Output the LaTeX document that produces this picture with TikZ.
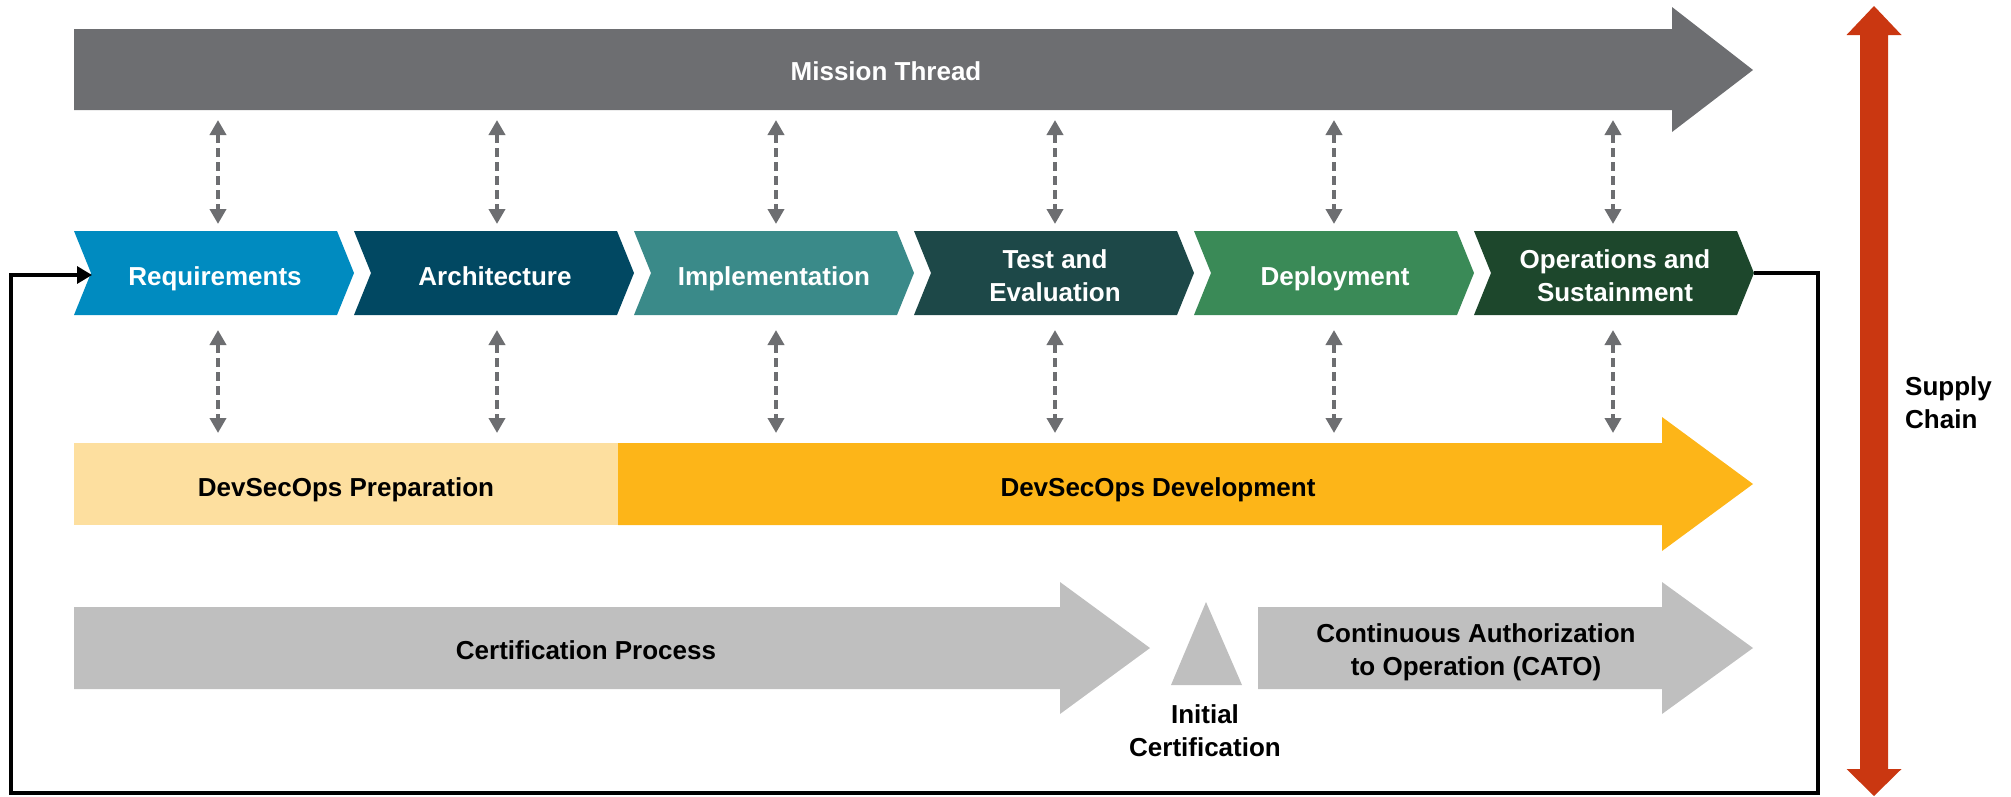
\documentclass[tikz,border=0pt]{standalone}
\usepackage{fontspec}
\setmainfont{Liberation Sans}
\usetikzlibrary{arrows.meta}
\definecolor{mgray}{HTML}{6D6E71}
\definecolor{creq}{HTML}{008BC0}
\definecolor{carch}{HTML}{014862}
\definecolor{cimpl}{HTML}{3A8A89}
\definecolor{ctest}{HTML}{1D4848}
\definecolor{cdep}{HTML}{3A8A57}
\definecolor{cops}{HTML}{1D472C}
\definecolor{cprep}{HTML}{FDDF9F}
\definecolor{cdev}{HTML}{FDB518}
\definecolor{ccert}{HTML}{BFBFBF}
\definecolor{cred}{HTML}{CA3711}
\tikzset{
  lbl/.style={font=\fontsize{26}{33}\selectfont\bfseries, align=center, inner sep=0pt},
  wlbl/.style={lbl, text=white},
  dasharrow/.style={draw=mgray, line width=4pt, dash pattern=on 9pt off 5pt,
    {Triangle[length=15pt,width=16pt]}-{Triangle[length=15pt,width=16pt]}},
  fbline/.style={draw=black, line width=3.3pt, -{Triangle[length=15pt,width=17pt]}},
}
\begin{document}
\begin{tikzpicture}[x=1pt,y=-1pt]
\useasboundingbox (0,0) rectangle (2011,796);
% Mission thread
\fill[mgray] (74,29) -- (1672,29) -- (1672,7) -- (1753,70) -- (1672,132) -- (1672,110) -- (74,110) -- cycle;
\node[wlbl, anchor=base] (mission) at (886,80) {Mission Thread};
% chevrons
\foreach \i/\col in {0/creq,1/carch,2/cimpl,3/ctest,4/cdep,5/cops}{
  \pgfmathsetmacro{\xo}{74+280*\i}
  \fill[\col] (\xo,231) -- (\xo+263,231) -- (\xo+280,273) -- (\xo+263,315) -- (\xo,315) -- (\xo+17,273) -- cycle;
}
\node[wlbl, anchor=base] (c1) at (215,285) {Requirements};
\node[wlbl, anchor=base] (c2) at (495,285) {Architecture};
\node[wlbl, anchor=base] (c3) at (774,285) {Implementation};
\node[wlbl] (c4) at (1055,276) {Test and\\Evaluation};
\node[wlbl, anchor=base] (c5) at (1335,285) {Deployment};
\node[wlbl] (c6) at (1615,276) {Operations and\\Sustainment};
% dashed arrows
\foreach \i in {0,...,5}{
  \pgfmathsetmacro{\xa}{218+279*\i}
  \coordinate (ua\i) at (\xa,120);
  \coordinate (ub\i) at (\xa,224);
  \coordinate (la\i) at (\xa,330);
  \coordinate (lb\i) at (\xa,433);
  \draw[dasharrow] (ua\i) -- (ub\i);
  \draw[dasharrow] (la\i) -- (lb\i);
}
% DevSecOps
\fill[cprep] (74,443) rectangle (618,525);
\fill[cdev] (618,443) -- (1662,443) -- (1662,417) -- (1753,484) -- (1662,551) -- (1662,525) -- (618,525) -- cycle;
\node[lbl, anchor=base] (prep) at (346,496) {DevSecOps Preparation};
\node[lbl, anchor=base] (dev) at (1158,496) {DevSecOps Development};
% Certification
\fill[ccert] (74,607) -- (1060,607) -- (1060,582) -- (1150,648) -- (1060,714) -- (1060,689) -- (74,689) -- cycle;
\fill[ccert] (1206,602) -- (1242,685) -- (1171,685) -- cycle;
\fill[ccert] (1258,607) -- (1662,607) -- (1662,582) -- (1753,648) -- (1662,714) -- (1662,689) -- (1258,689) -- cycle;
\node[lbl, anchor=base] (cert) at (586,659) {Certification Process};
\node[lbl] (cato) at (1476,652) {Continuous Authorization\\to Operation (CATO)};
\node[lbl] (init) at (1205,731) {Initial\\Certification};
% Supply chain
\fill[cred] (1860,35) -- (1846.5,35) -- (1874,6) -- (1901.5,35) -- (1888,35) -- (1888,769) -- (1901.5,769) -- (1874,796) -- (1846.5,769) -- (1860,769) -- cycle;
\node[lbl, align=left, anchor=west] (supply) at (1905,403) {Supply\\Chain};
% feedback loop
\coordinate (optip) at (1754,273);
\coordinate (reqin) at (92,275);
\coordinate (brc) at (1818,793);
\coordinate (blc) at (11,793);
\draw[fbline] (optip) -| (brc) -- (blc) |- (reqin);
\end{tikzpicture}
\end{document}
